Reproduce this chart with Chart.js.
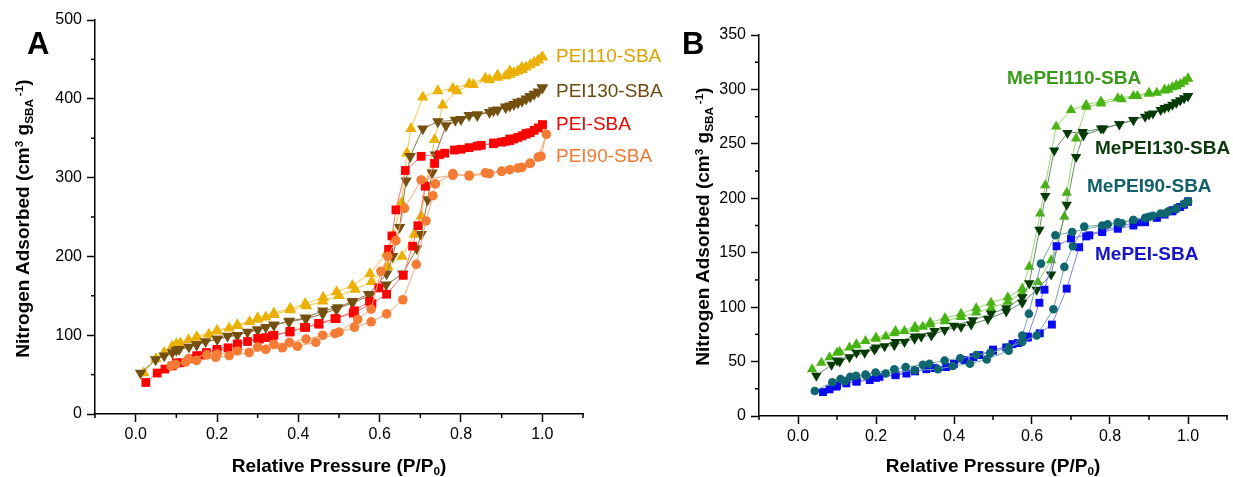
<!DOCTYPE html>
<html><head><meta charset="utf-8">
<script src="https://cdn.jsdelivr.net/npm/chart.js@4.4.0/dist/chart.umd.min.js"></script>
<style>
html,body{margin:0;padding:0;background:#fff;}
#wrap{position:relative;width:1233px;height:477px;overflow:hidden;font-family:"Liberation Sans",Arial,sans-serif;}
canvas{position:absolute;top:0;}
.t{position:absolute;white-space:nowrap;font-size:19px;line-height:19px;}
.b{font-weight:bold;}
.sup{position:relative;top:-0.55em;font-size:0.62em;}
.sub{position:relative;top:0.3em;font-size:0.62em;}
.rot{transform-origin:center center;transform:rotate(-90deg);text-align:center;}
.panel{position:absolute;font-weight:bold;font-size:31px;line-height:31px;}
</style></head>
<body>
<div id="wrap">
<canvas id="cA" width="616" height="477" style="left:0"></canvas>
<canvas id="cB" width="617" height="477" style="left:616px"></canvas>

<div class="panel" style="left:27px;top:28px;">A</div>
<div class="panel" style="left:682px;top:28px;">B</div>

<div class="t b rot" style="left:-127px;top:207.5px;width:300px;">Nitrogen Adsorbed (cm<span class="sup">3</span> g<span class="sub">SBA</span><span class="sup"> -1</span>)</div>
<div class="t b rot" style="left:553px;top:216px;width:300px;">Nitrogen Adsorbed (cm<span class="sup">3</span> g<span class="sub">SBA</span><span class="sup"> -1</span>)</div>
<div class="t b" style="left:189px;top:455.5px;width:300px;text-align:center;">Relative Pressure (P/P<span class="sub">0</span>)</div>
<div class="t b" style="left:843px;top:455.5px;width:300px;text-align:center;">Relative Pressure (P/P<span class="sub">0</span>)</div>

<div class="t" style="left:556px;top:46px;color:#D9A400;">PEI110-SBA</div>
<div class="t" style="left:556px;top:81px;color:#6B4A10;">PEI130-SBA</div>
<div class="t" style="left:556px;top:114px;color:#F00000;">PEI-SBA</div>
<div class="t" style="left:556px;top:146px;color:#F07A30;">PEI90-SBA</div>

<div class="t b" style="left:1007px;top:67.5px;color:#3A9A1A;">MePEI110-SBA</div>
<div class="t b" style="left:1095px;top:137.5px;color:#0C3A0C;">MePEI130-SBA</div>
<div class="t b" style="left:1087px;top:176px;color:#11606A;">MePEI90-SBA</div>
<div class="t b" style="left:1095px;top:244px;color:#1414C8;">MePEI-SBA</div>
</div>
<script>
// ---------------- Panel A data ----------------
const pei110AdsX = [0.02,0.05,0.07,0.09,0.11,0.13,0.15,0.18,0.20,0.23,0.25,0.28,0.30,0.32,0.34,0.38,0.42,0.46,0.50,0.54,0.58,0.62,0.655,0.685,0.702,0.714,0.735,0.755,0.79,0.83,0.87,0.89,0.91,0.92,0.93,0.94,0.95,0.96,0.97,0.98,0.99,1.0];
const pei110AdsY = [52,70,78,86,90,94,97,101,105,109,112,117,120,123,126,132,137,143,150,158,168,187,200,228,251,291,348,392,410,418,424,427,429,431,433,435,437,440,443,446,449,453];
const pei110DesX = [1.0,0.98,0.95,0.92,0.89,0.86,0.82,0.78,0.743,0.706,0.677,0.667,0.654,0.634,0.617,0.576,0.533,0.494,0.461,0.417,0.38,0.34,0.30,0.25,0.20,0.15,0.10];
const pei110DesY = [453,446,440,435,430,426,419,413,410,402,362,331,268,227,204,178,163,155,148,140,134,128,122,113,106,98,89];

const pei130AdsX = [0.012,0.049,0.07,0.09,0.107,0.131,0.15,0.172,0.201,0.226,0.25,0.275,0.30,0.32,0.34,0.377,0.419,0.46,0.493,0.533,0.575,0.616,0.657,0.691,0.702,0.718,0.729,0.737,0.763,0.80,0.84,0.87,0.89,0.91,0.92,0.93,0.94,0.95,0.96,0.97,0.98,0.99,1.0];
const pei130AdsY = [52,69,74,78,82,85,88,92,95,99,100,104,107,110,113,117,121,127,133,141,150,164,178,210,228,272,306,329,366,374,379,383,386,389,391,393,395,397,400,403,406,409,414];
const pei130DesX = [1.0,0.97,0.94,0.91,0.88,0.84,0.82,0.786,0.743,0.706,0.675,0.665,0.649,0.632,0.617,0.573,0.533,0.497,0.46,0.417,0.378,0.34,0.30,0.25,0.20,0.15,0.10];
const pei130DesY = [414,403,396,390,385,380,379,373,371,362,327,296,237,200,178,152,143,135,131,122,118,113,107,100,95,88,81];

const peiAdsX = [0.025,0.053,0.072,0.09,0.11,0.138,0.16,0.174,0.20,0.227,0.25,0.275,0.304,0.32,0.336,0.379,0.415,0.45,0.49,0.535,0.581,0.617,0.658,0.681,0.694,0.712,0.735,0.747,0.784,0.82,0.85,0.88,0.90,0.91,0.92,0.93,0.94,0.95,0.96,0.97,0.98,0.99,1.0];
const peiAdsY = [40,52,57,61,65,70,74,78,80,84,88,92,95,97,99,104,110,115,121,128,140,152,176,213,239,289,318,329,335,338,341,343,345,346,347,349,351,353,355,357,360,363,367];
const peiDesX = [1.0,0.96,0.92,0.88,0.84,0.80,0.76,0.702,0.663,0.64,0.63,0.622,0.598,0.575,0.538,0.493,0.451,0.418,0.38,0.34,0.30,0.25,0.20,0.15,0.10];
const peiDesY = [367,356,349,344,340,336,331,327,309,259,226,209,160,143,131,121,114,110,105,100,96,89,82,74,65];

const pei90AdsX = [0.087,0.098,0.123,0.15,0.197,0.23,0.279,0.32,0.361,0.398,0.443,0.49,0.538,0.579,0.617,0.657,0.69,0.714,0.731,0.737,0.78,0.82,0.87,0.90,0.92,0.95,0.97,0.99,1.01];
const pei90AdsY = [61,63,66,68,72,74,78,82,84,86,91,102,110,117,127,145,190,245,277,292,305,302,305,308,310,313,318,326,355];
const pei90DesX = [0.997,0.97,0.94,0.90,0.86,0.82,0.78,0.702,0.661,0.64,0.62,0.603,0.579,0.546,0.50,0.46,0.419,0.378,0.34,0.30,0.25,0.20,0.175,0.13];
const pei90DesY = [327,318,312,308,306,303,303,297,261,220,200,181,133,120,104,100,95,91,88.5,85,80,76,75,70];

// ---------------- Panel B data ----------------
const mepei110AdsX = [0.036,0.06,0.081,0.107,0.132,0.149,0.173,0.199,0.225,0.247,0.273,0.299,0.32,0.339,0.377,0.418,0.457,0.495,0.538,0.575,0.615,0.649,0.683,0.689,0.713,0.739,0.777,0.83,0.87,0.90,0.92,0.94,0.95,0.96,0.97,0.98,0.99,1.0];
const mepei110AdsY = [43,49,54,59,63,65,69,71,73,76,78,80,82,84,87,91,95,99,105,113,123,143,183,205,255,284,287,291,294,296,297,299,300,302,303,305,307,310];
const mepei110DesX = [1.0,0.97,0.94,0.90,0.86,0.82,0.777,0.739,0.70,0.662,0.634,0.621,0.593,0.575,0.538,0.495,0.457,0.418,0.377,0.339,0.30,0.25,0.20,0.15,0.10];
const mepei110DesY = [310,304,300,297,294,292,289,286,281,266,212,186,137,117,109,104,99,94,90,86,82,78,72,66,58];

const mepei130AdsX = [0.047,0.086,0.107,0.132,0.171,0.196,0.222,0.247,0.273,0.299,0.316,0.342,0.376,0.418,0.444,0.487,0.534,0.575,0.612,0.649,0.689,0.713,0.732,0.783,0.824,0.86,0.89,0.91,0.93,0.95,0.96,0.97,0.98,0.99,1.0];
const mepei130AdsY = [37,47,50,54,58,61,64,65,68,71,73,74,79,82,84,89,96,104,116,130,194,238,258,264,268,272,275,278,281,284,286,288,290,292,294];
const mepei130DesX = [1.0,0.97,0.94,0.90,0.86,0.824,0.777,0.73,0.691,0.657,0.634,0.619,0.593,0.575,0.534,0.495,0.448,0.40,0.35,0.30,0.25,0.20,0.15,0.10];
const mepei130DesY = [294,288,283,277,272,268,264,261,260,244,202,171,122,109,99,94,88,83,78,73,68,63,58,51];

const mepei90AdsX = [0.043,0.088,0.109,0.134,0.149,0.173,0.199,0.247,0.276,0.32,0.337,0.376,0.416,0.457,0.493,0.54,0.575,0.612,0.655,0.683,0.705,0.734,0.794,0.83,0.86,0.89,0.91,0.93,0.95,0.97,0.99,1.0];
const mepei90AdsY = [23,31,34,36,37,38,40,43,45,47,48,51,53,56,58,63,68,74,98,137,156,174,176,177,180,182,184,186,188,191,195,197];
const mepei90DesX = [1.0,0.97,0.94,0.90,0.86,0.82,0.78,0.703,0.66,0.623,0.592,0.575,0.54,0.484,0.441,0.397,0.359,0.299,0.225,0.175,0.12];
const mepei90DesY = [197,190,186,183,180,178,175,169,166,140,94,74,60,52,48,46,43,42,39,37,32];

const mepeiAdsX = [0.064,0.081,0.098,0.124,0.15,0.184,0.209,0.25,0.278,0.329,0.38,0.427,0.465,0.50,0.534,0.564,0.589,0.62,0.651,0.689,0.721,0.739,0.747,0.78,0.82,0.86,0.89,0.92,0.94,0.96,0.98,0.99,1.0];
const mepeiAdsY = [22,24.5,27,30,31.5,33,36,37.5,39,43,45,51.5,56,61,63,67,72,76,84,117,155,165,166,169,172,175,178,182,185,188,192,194,197];
const mepeiDesX = [1.0,0.96,0.92,0.87,0.82,0.78,0.70,0.663,0.632,0.619,0.589,0.55,0.50,0.45,0.40,0.35,0.30,0.25,0.20,0.15,0.10];
const mepeiDesY = [197,189,183,178,174,170,163,156,116,104,73,66,60,54,48,44,41,38,35,32,28];

// ---------------- Tick values ----------------
const xMajor = [0.0,0.2,0.4,0.6,0.8,1.0];
const xMinor = [-0.1,0.1,0.3,0.5,0.7,0.9,1.1];
const yMajorA = [0,100,200,300,400,500];
const yMinorA = [50,150,250,350,450];
const yMajorB = [0,50,100,150,200,250,300,350];
const yMinorB = [25,75,125,175,225,275,325];

function pts(ax, ay, dx, dy){
  const out = [];
  ax.forEach((v,i)=>out.push({x:v,y:ay[i]}));
  dx.forEach((v,i)=>out.push({x:v,y:dy[i]}));
  return out;
}
function ds(data, fill, line, style, r, rot){
  return {data, showLine:true, borderColor:line, borderWidth:1, backgroundColor:fill,
    pointBackgroundColor:fill, pointBorderColor:fill, pointBorderWidth:0,
    pointStyle:style, pointRadius:r, pointRotation:rot||0, tension:0};
}

const minorTicks = {
  id:'minorTicks',
  afterDraw(chart, args, o){
    const ctx = chart.ctx, xs = chart.scales.x, ys = chart.scales.y;
    ctx.save(); ctx.strokeStyle='#000'; ctx.lineWidth=1.5;
    o.x.forEach(v=>{ const p = xs.getPixelForValue(v); ctx.beginPath(); ctx.moveTo(p, ys.bottom); ctx.lineTo(p, ys.bottom+o.len); ctx.stroke(); });
    o.y.forEach(v=>{ const p = ys.getPixelForValue(v); ctx.beginPath(); ctx.moveTo(xs.left, p); ctx.lineTo(xs.left-o.len, p); ctx.stroke(); });
    ctx.restore();
  }
};

const FONT = {family:'"Liberation Sans", Arial, sans-serif', size:16};

function makeChart(id, datasets, yMax, yMajor, yMinor, yWidth, xHeight, pad){
  return new Chart(document.getElementById(id), {
    type:'scatter',
    data:{datasets},
    plugins:[minorTicks],
    options:{
      responsive:false, animation:false, devicePixelRatio:1,
      layout:{padding:pad, autoPadding:false},
      plugins:{legend:{display:false}, tooltip:{enabled:false}, minorTicks:{x:xMinor, y:yMinor, len:4}},
      scales:{
        x:{type:'linear', min:-0.1, max:1.1,
          afterBuildTicks:s=>{ s.ticks = xMajor.map(v=>({value:v})); },
          afterFit:s=>{ s.height = xHeight; },
          grid:{display:true, drawOnChartArea:false, drawTicks:true, tickLength:8, tickColor:'#000', tickWidth:1.5},
          border:{display:true, color:'#000', width:1.5},
          ticks:{autoSkip:false, maxRotation:0, color:'#000', font:FONT, padding:3, callback:v=>Number(v).toFixed(1)}
        },
        y:{type:'linear', min:0, max:yMax,
          afterBuildTicks:s=>{ s.ticks = yMajor.map(v=>({value:v})); },
          afterFit:s=>{ s.width = yWidth; },
          grid:{display:true, drawOnChartArea:false, drawTicks:true, tickLength:8, tickColor:'#000', tickWidth:1.5},
          border:{display:true, color:'#000', width:1.5},
          ticks:{autoSkip:false, color:'#000', font:FONT, padding:5, callback:v=>String(v)}
        }
      }
    }
  });
}

makeChart('cA', [
  ds(pts(pei90AdsX,pei90AdsY,pei90DesX,pei90DesY), '#F47C34', '#F8A878', 'circle', 4.8),
  ds(pts(peiAdsX,peiAdsY,peiDesX,peiDesY), '#FF0000', '#FF7070', 'rect', 6.2),
  ds(pts(pei130AdsX,pei130AdsY,pei130DesX,pei130DesY), '#735010', '#8C7440', 'triangle', 6.6, 180),
  ds(pts(pei110AdsX,pei110AdsY,pei110DesX,pei110DesY), '#EBB000', '#F2C84A', 'triangle', 6.6, 0)
], 500, yMajorA, yMinorA, 95, 63, {left:0, right:33, top:20, bottom:0});

makeChart('cB', [
  ds(pts(mepei90AdsX,mepei90AdsY,mepei90DesX,mepei90DesY), '#0F6670', '#70A8B0', 'circle', 4.3),
  ds(pts(mepeiAdsX,mepeiAdsY,mepeiDesX,mepeiDesY), '#0A0AF0', '#8080FF', 'rect', 5.6),
  ds(pts(mepei130AdsX,mepei130AdsY,mepei130DesX,mepei130DesY), '#053A05', '#6A8A6A', 'triangle', 6.0, 180),
  ds(pts(mepei110AdsX,mepei110AdsY,mepei110DesX,mepei110DesY), '#48B414', '#9AD870', 'triangle', 6.0, 0)
], 350, yMajorB, yMinorB, 143, 61, {left:0, right:6, top:35, bottom:0});
</script>
</body></html>
